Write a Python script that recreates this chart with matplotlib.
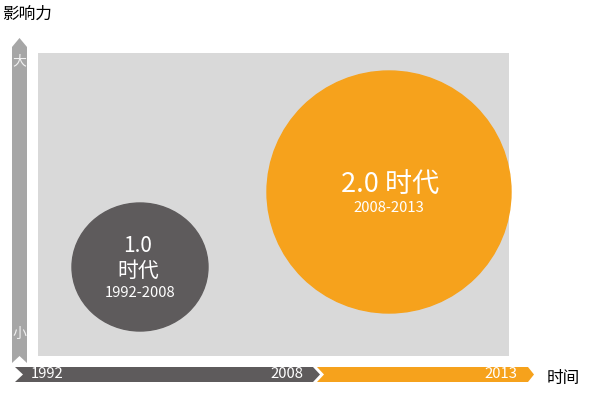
import matplotlib
matplotlib.use('Agg')
import matplotlib.pyplot as plt
from matplotlib.patches import Ellipse, Polygon

plt.rcParams['font.family'] = ['Noto Sans CJK SC', 'DejaVu Sans']

# data (time / influence units are pixels of the plot area)
years = [1992, 2008, 2013]
era_titles = ['1.0', '2.0']
era_spans = ['1992-2008', '2008-2013']
era_time = [102, 351]
era_influence = [89, 164]
era_width = [136, 244]
era_height = [128, 242]

dark = '#5E5B5C'
orange = '#F6A21C'
grey_bg = '#D9D9D9'
grey_axis = '#A6A6A6'

W, H = 594, 397
fig = plt.figure(figsize=(W / 100, H / 100), dpi=100)

# overlay in pixel coordinates for the arrows and axis captions
ov = fig.add_axes([0, 0, 1, 1])
ov.set_xlim(0, W)
ov.set_ylim(H, 0)
ov.axis('off')

# main plotting area (grey box)
x0, x1, y0, y1 = 38, 509, 53, 356
ax = fig.add_axes([x0 / W, (H - y1) / H, (x1 - x0) / W, (y1 - y0) / H])
ax.set_facecolor(grey_bg)
ax.set_xlim(0, x1 - x0)
ax.set_ylim(0, y1 - y0)
ax.set_xticks([])
ax.set_yticks([])
for s in ax.spines.values():
    s.set_visible(False)

colors = [dark, orange]
for i in range(len(era_titles)):
    ax.add_patch(Ellipse((era_time[i], era_influence[i]), era_width[i], era_height[i],
                         color=colors[i], clip_on=False, zorder=2))

# text inside bubbles
ax.text(era_time[0] - 2, era_influence[0] + 21, era_titles[0], color='white',
        fontsize=15, ha='center', va='center', zorder=3)
ax.text(era_time[0] - 2, era_influence[0] - 4, '时代', color='white',
        fontsize=15, ha='center', va='center', zorder=3)
ax.text(era_time[0], era_influence[0] - 26, era_spans[0], color='white',
        fontsize=10.7, ha='center', va='center', zorder=3)
ax.text(era_time[1] + 1, era_influence[1] + 7, era_titles[1] + ' 时代', color='white',
        fontsize=19.5, ha='center', va='center', zorder=3)
ax.text(era_time[1], era_influence[1] - 16, era_spans[1], color='white',
        fontsize=10.7, ha='center', va='center', zorder=3)

# vertical "influence" arrow
ov.add_patch(Polygon([(12, 47), (19.5, 38), (27, 47), (27, 363), (19.5, 356), (12, 363)],
                     closed=True, color=grey_axis, lw=0))
ov.text(19.5, 61, '大', color='#F2F2F2', fontsize=10, ha='center', va='center')
ov.text(19.5, 334, '小', color='#F2F2F2', fontsize=10, ha='center', va='center')
ov.text(2, 14, '影响力', color='black', fontsize=12, ha='left', va='center')

# timeline chevrons
ya, yb = 367, 382
ym = (ya + yb) / 2
ov.add_patch(Polygon([(15, ya), (313, ya), (320, ym), (313, yb), (15, yb), (23, ym)],
                     closed=True, color=dark, lw=0))
ov.add_patch(Polygon([(317, ya), (528, ya), (534, ym), (528, yb), (317, yb), (324, ym)],
                     closed=True, color=orange, lw=0))
ov.text(31, ym, str(years[0]), color='white', fontsize=10.7, ha='left', va='center')
ov.text(303, ym, str(years[1]), color='white', fontsize=10.7, ha='right', va='center')
ov.text(517, ym, str(years[2]), color='white', fontsize=10.7, ha='right', va='center')
ov.text(547, 378, '时间', color='black', fontsize=12, ha='left', va='center')

fig.savefig('out.png', dpi=100)
